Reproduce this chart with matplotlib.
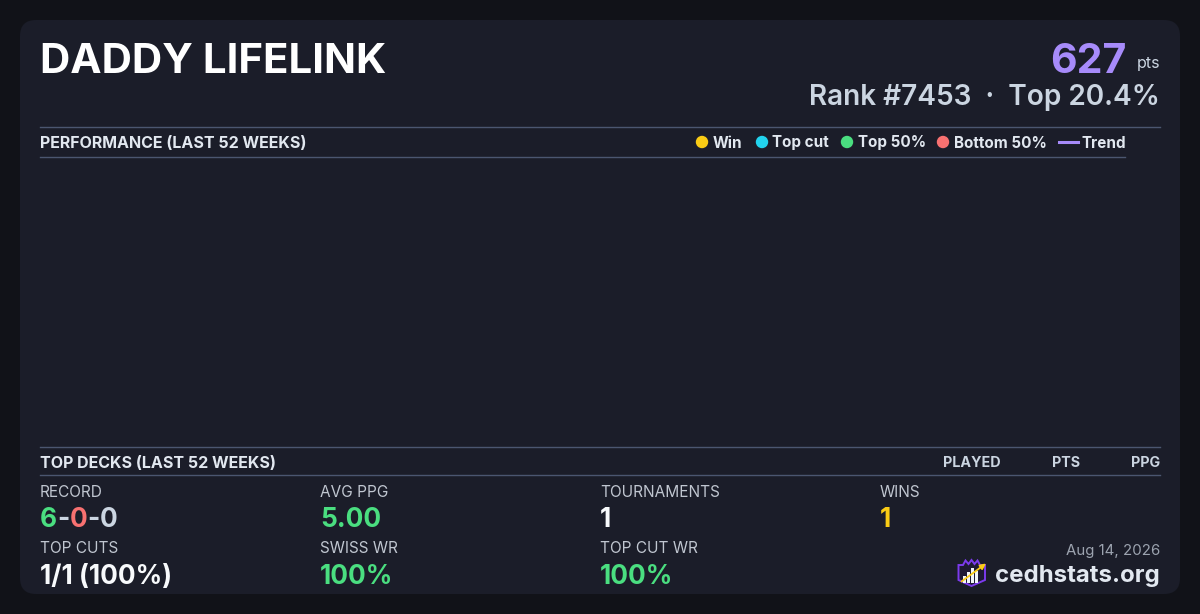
import matplotlib
matplotlib.use("Agg")
import matplotlib.pyplot as plt
from matplotlib.patches import FancyBboxPatch, Polygon, Rectangle, Circle

plt.rcParams['font.family'] = ['Inter', 'DejaVu Sans']

# ---------------- data ----------------
player_name = "DADDY LIFELINK"
points_total = "627"
rank_text = "Rank #7453  \u00b7  Top 20.4%"
perf_title = "PERFORMANCE (LAST 52 WEEKS)"
legend_labels = ["Win", "Top cut", "Top 50%", "Bottom 50%", "Trend"]
legend_colors = ["#facc15", "#22d3ee", "#4ade80", "#f87171", "#a78bfa"]
# weekly performance (no events shown in the last 52 weeks)
perf_weeks = []
perf_points = []
trend_points = []
decks_title = "TOP DECKS (LAST 52 WEEKS)"
deck_columns = ["PLAYED", "PTS", "PPG"]
deck_names = []
record_parts = ["6", "-", "0", "-", "0"]
record_colors = ["#4ade80", "#cbd5e1", "#f87171", "#cbd5e1", "#cbd5e1"]
stat_labels_row1 = ["RECORD", "AVG PPG", "TOURNAMENTS", "WINS"]
stat_values_row1 = [None, "5.00", "1", "1"]
stat_colors_row1 = [None, "#4ade80", "#f8fafc", "#facc15"]
stat_labels_row2 = ["TOP CUTS", "SWISS WR", "TOP CUT WR"]
stat_values_row2 = ["1/1 (100%)", "100%", "100%"]
stat_colors_row2 = ["#f8fafc", "#4ade80", "#4ade80"]
date_text = "Aug 14, 2026"
site_text = "cedhstats.org"

BG = "#111218"
CARD = "#1b1d29"
LINE = "#4b5670"

fig = plt.figure(figsize=(12, 6.14), dpi=100, facecolor=BG)
ax = fig.add_axes([0, 0, 1, 1])
ax.set_xlim(0, 1200)
ax.set_ylim(614, 0)
ax.axis("off")
ax.set_facecolor(BG)

ax.add_patch(FancyBboxPatch((20, 20), 1160, 574, boxstyle="round,pad=0,rounding_size=16",
                            facecolor=CARD, edgecolor="none"))

PX = 72 / 100.0  # pixels -> points

ax.text(40, 73, player_name, fontsize=42 * PX, fontweight="bold", color="#ffffff",
        ha="left", va="baseline")
ax.text(1160, 68, "pts", fontsize=16 * PX, color="#cbd5e1", ha="right", va="baseline")
ax.text(1126, 73, points_total, fontsize=41 * PX, fontweight="bold", color="#a78bfa",
        ha="right", va="baseline")
ax.text(1160, 105, rank_text, fontsize=28 * PX, fontweight="semibold", color="#cbd5e1",
        ha="right", va="baseline")

# section lines
ax.plot([40, 1160], [126.5, 126.5], color=LINE, lw=1)
ax.plot([40, 1125], [156.5, 156.5], color=LINE, lw=1)
ax.text(40, 148, perf_title, fontsize=16 * PX, fontweight="bold", color="#e2e8f0",
        ha="left", va="baseline")

# legend
marker_x = [702, 762, 847, 943]
text_x = [712.5, 772, 857.5, 953.5, 1081.5]
for i, lab in enumerate(legend_labels):
    if i < 4:
        ax.add_patch(Circle((marker_x[i], 142), 6.2, facecolor=legend_colors[i], edgecolor="none"))
    else:
        ax.plot([1059, 1078], [142, 142], color=legend_colors[i], lw=2.2)
    ax.text(text_x[i], 147.5, lab, fontsize=15.2 * PX, fontweight="bold", color="#e2e8f0",
            ha="left", va="baseline")

# performance chart area (empty)
cax = fig.add_axes([40 / 1200, 1 - 440 / 614, 1085 / 1200, (440 - 160) / 614])
cax.set_facecolor("none")
cax.scatter(perf_weeks, perf_points, color=legend_colors[0])
cax.plot(perf_weeks, trend_points, color=legend_colors[4])
cax.set_xlim(0, 52)
cax.axis("off")

# top decks
ax.plot([40, 1160], [446.5, 446.5], color=LINE, lw=1)
ax.plot([40, 1160], [474.5, 474.5], color=LINE, lw=1)
ax.text(40, 467.5, decks_title, fontsize=16 * PX, fontweight="bold", color="#e2e8f0",
        ha="left", va="baseline")
col_x = [972, 1066, 1160]
col_ha = ["center", "center", "right"]
for c, x, h in zip(deck_columns, col_x, col_ha):
    ax.text(x, 467, c, fontsize=14.3 * PX, fontweight="bold", color="#cbd5e1",
            ha=h, va="baseline")

# stats
stat_x = [40, 320, 600, 880]
LAB_FS = 15.4 * PX
VAL_FS = 26.3 * PX
for i, lab in enumerate(stat_labels_row1):
    ax.text(stat_x[i], 497, lab, fontsize=LAB_FS, color="#c0c6d0", ha="left", va="baseline")
    if stat_values_row1[i] is not None:
        ax.text(stat_x[i], 527, stat_values_row1[i], fontsize=VAL_FS, fontweight="bold",
                color=stat_colors_row1[i], ha="left", va="baseline")

# record with coloured parts
fig.canvas.draw()
renderer = fig.canvas.get_renderer()
x = 40.0
inv = ax.transData.inverted()
for part, col in zip(record_parts, record_colors):
    t = ax.text(x, 527, part, fontsize=VAL_FS, fontweight="bold", color=col,
                ha="left", va="baseline")
    bb = t.get_window_extent(renderer=renderer)
    (x0, _), (x1, _) = inv.transform([(bb.x0, 0), (bb.x1, 0)])
    x += (x1 - x0)

for i, lab in enumerate(stat_labels_row2):
    ax.text(stat_x[i], 553, lab, fontsize=LAB_FS, color="#c0c6d0", ha="left", va="baseline")
    ax.text(stat_x[i], 584, stat_values_row2[i], fontsize=VAL_FS, fontweight="bold",
            color=stat_colors_row2[i], ha="left", va="baseline")

# date and site
ax.text(1160, 555, date_text, fontsize=15 * PX, color="#9ca3af", ha="right", va="baseline")
ax.text(1160, 582, site_text, fontsize=24 * PX, fontweight="bold", color="#e2e8f0",
        ha="right", va="baseline")

# logo
shield = [(958.5, 565), (963, 565), (965.5, 560.5), (968.5, 564), (971.5, 560), (974.5, 564),
          (977.5, 560.5), (980, 565), (985, 565), (985, 580), (971.5, 586), (958.5, 580)]
ax.add_patch(Polygon(shield, closed=True, facecolor="#1e1a33", edgecolor="#7c3aed", lw=1.4))
for bx, top in [(962.5, 576), (966.5, 572), (970.5, 568), (974.5, 571)]:
    ax.add_patch(Rectangle((bx, top), 3.0, 582.5 - top, facecolor="#f1f5f9", edgecolor="none"))
ax.annotate("", xy=(986, 563.5), xytext=(961.5, 581.5),
            arrowprops=dict(arrowstyle="-|>", color="#facc15", lw=1.3, mutation_scale=8,
                            shrinkA=0, shrinkB=0))

fig.savefig("out.png", dpi=100, facecolor=BG)
